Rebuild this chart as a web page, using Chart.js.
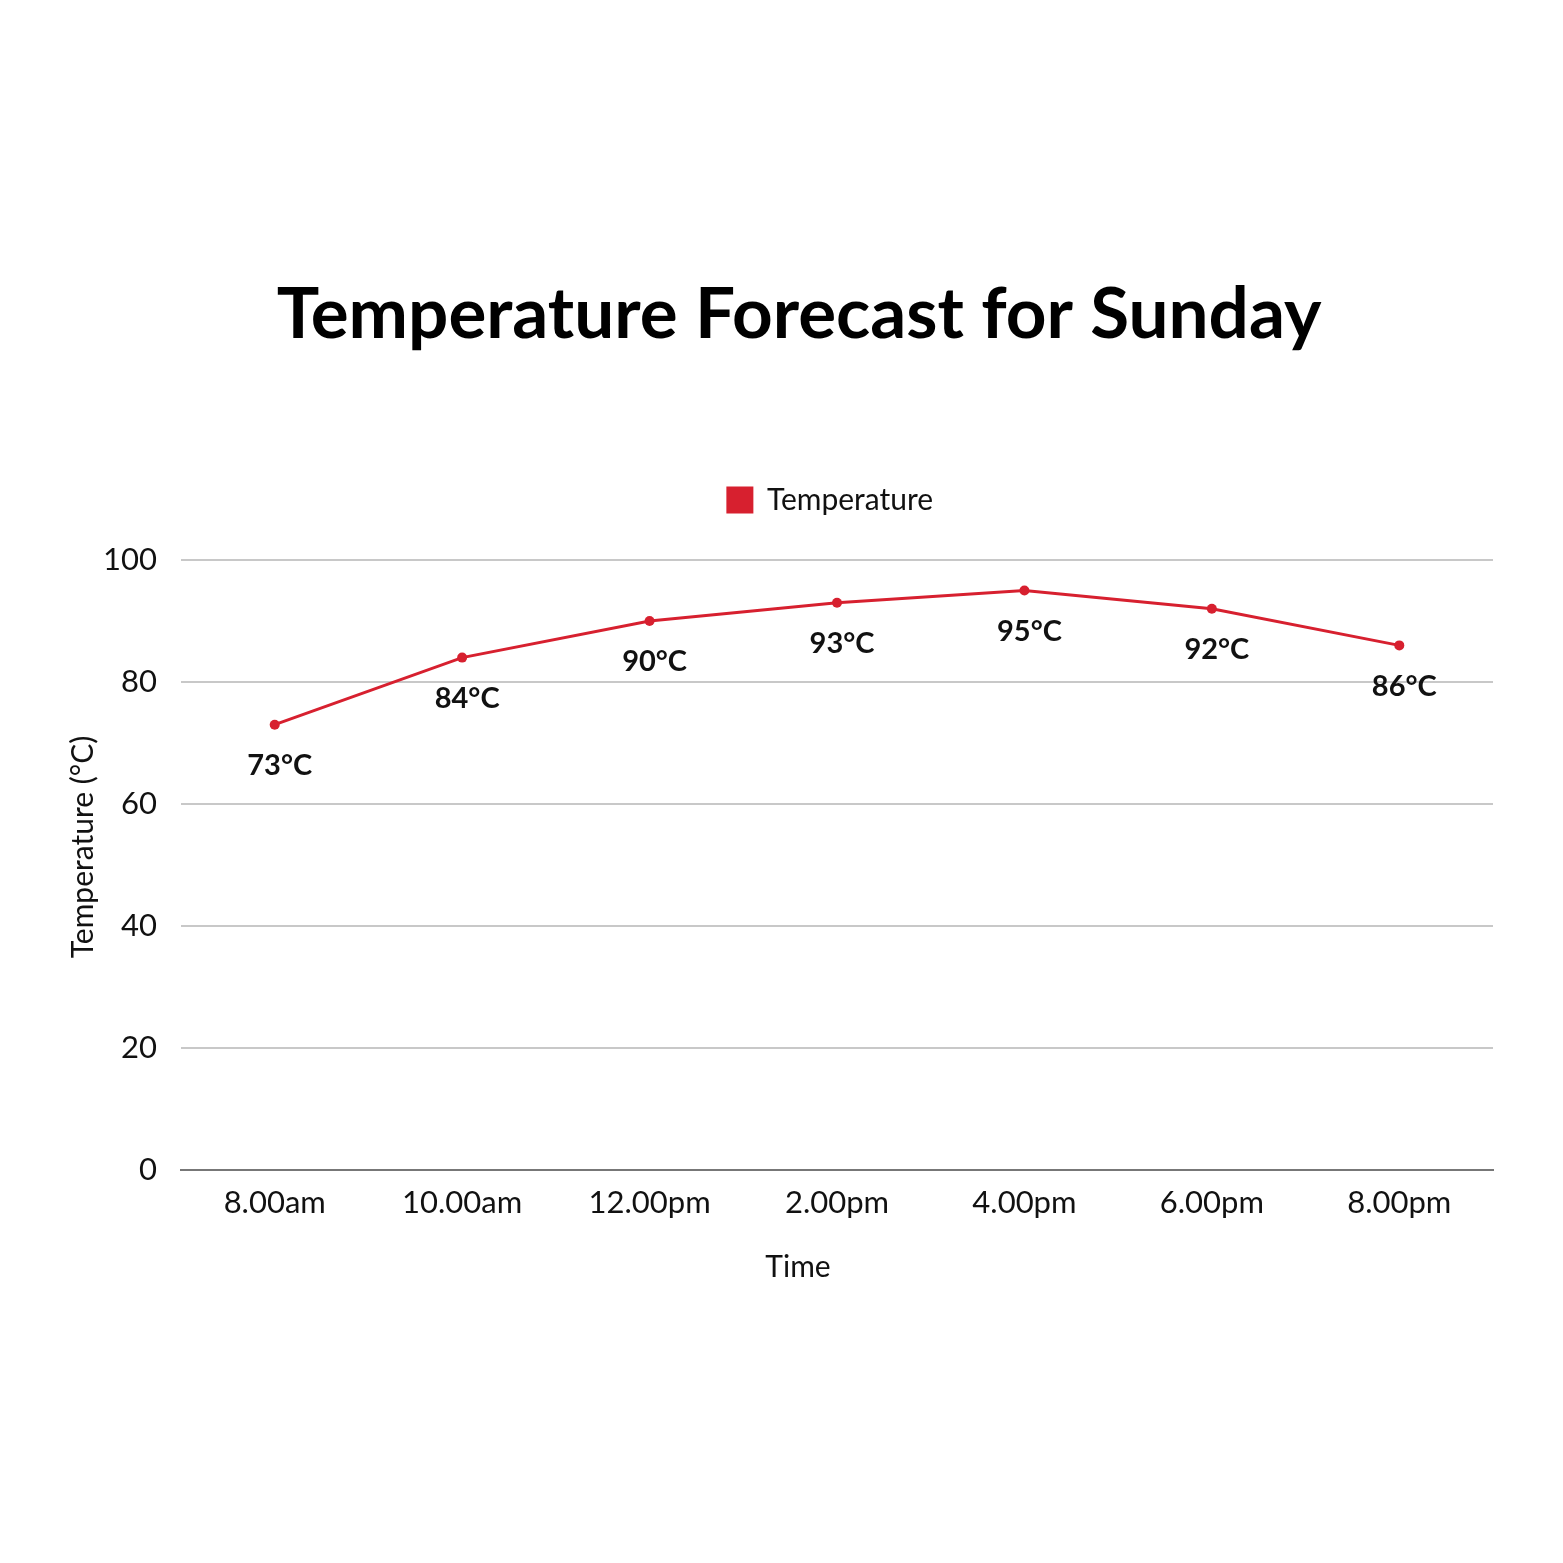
<!DOCTYPE html>
<html>
<head>
<meta charset="utf-8">
<script src="https://cdn.jsdelivr.net/npm/chart.js@4.4.1/dist/chart.umd.min.js"></script>
<style>
  html, body { margin: 0; padding: 0; background: #ffffff; }
  #wrap { width: 1563px; height: 1563px; }
</style>
</head>
<body>
<div id="wrap"><canvas id="c" width="1563" height="1563"></canvas></div>
<script>
const categories = ["8.00am", "10.00am", "12.00pm", "2.00pm", "4.00pm", "6.00pm", "8.00pm"];
const temperatures = [73, 84, 90, 93, 95, 92, 86];
const seriesName = "Temperature";
const titleText = "Temperature Forecast for Sunday";
const xTitle = "Time";
const yTitle = "Temperature (°C)";
const yTicks = [0, 20, 40, 60, 80, 100];

const FONT = "Lato, 'Noto Sans', sans-serif";
const RED = "#d7202f";

// Extra space between legend and plot area, and legend centred over the plot
const legendGapPlugin = {
  id: "legendGap",
  beforeLayout(chart) {
    const lg = chart.legend;
    if (lg && !lg._gapPatched) {
      const f = lg.fit;
      lg.fit = function () { f.call(this); this.height += 35; };
      lg._gapPatched = true;
    }
  },
  afterLayout(chart) {
    const lg = chart.legend;
    if (lg) { lg.left += 54; lg.right += 54; }
  }
};

const textPlugin = {
  id: "texts",
  afterDatasetsDraw(chart) {
    const ctx = chart.ctx;
    const meta = chart.getDatasetMeta(0);
    ctx.save();
    // point labels
    ctx.font = "bold 29px " + FONT;
    ctx.fillStyle = "#111";
    ctx.textAlign = "center";
    ctx.textBaseline = "middle";
    meta.data.forEach((pt, i) => {
      ctx.fillText(temperatures[i] + "°C", pt.x + 5, pt.y + 41);
    });
    // main title
    ctx.fillStyle = "#000";
    ctx.font = "bold 71px " + FONT;
    ctx.fillText(titleText, 799, 315);
    // x axis title
    ctx.fillStyle = "#111";
    ctx.font = "30px " + FONT;
    ctx.fillText(xTitle, 798, 1267);
    // y axis title
    ctx.translate(83, 847);
    ctx.rotate(-Math.PI / 2);
    ctx.font = "30px " + FONT;
    ctx.fillText(yTitle, 0, 0);
    ctx.restore();
  }
};

new Chart(document.getElementById("c"), {
  type: "line",
  data: {
    labels: categories,
    datasets: [{
      label: seriesName,
      data: temperatures,
      borderColor: RED,
      backgroundColor: RED,
      borderWidth: 3,
      pointRadius: 5,
      pointHoverRadius: 5,
      pointBackgroundColor: RED,
      pointBorderWidth: 0,
      tension: 0
    }]
  },
  options: {
    responsive: false,
    animation: false,
    devicePixelRatio: 1,
    layout: { padding: { top: 475, left: 60, right: 70, bottom: 333 } },
    plugins: {
      title: { display: false },
      legend: {
        display: true,
        labels: {
          color: "#111",
          font: { family: FONT, size: 30 },
          boxWidth: 24,
          boxHeight: 24,
          padding: 10
        }
      },
      tooltip: { enabled: false }
    },
    scales: {
      x: {
        offset: true,
        afterFit(scale) { scale.height = 60; },
        grid: { display: false, drawTicks: false },
        border: { display: true, color: "#777", width: 2 },
        ticks: { color: "#111", font: { family: FONT, size: 31 }, padding: 14, maxRotation: 0 },
        title: { display: false }
      },
      y: {
        min: 0, max: 100,
        afterBuildTicks(scale) { scale.ticks = yTicks.map(v => ({ value: v })); },
        afterFit(scale) { scale.width = 121; },
        grid: { color: "#c8c8c8", lineWidth: 2, drawTicks: false },
        border: { display: false },
        ticks: { color: "#111", font: { family: FONT, size: 31 }, padding: 24 },
        title: { display: false }
      }
    }
  },
  plugins: [legendGapPlugin, textPlugin]
});
</script>
</body>
</html>
